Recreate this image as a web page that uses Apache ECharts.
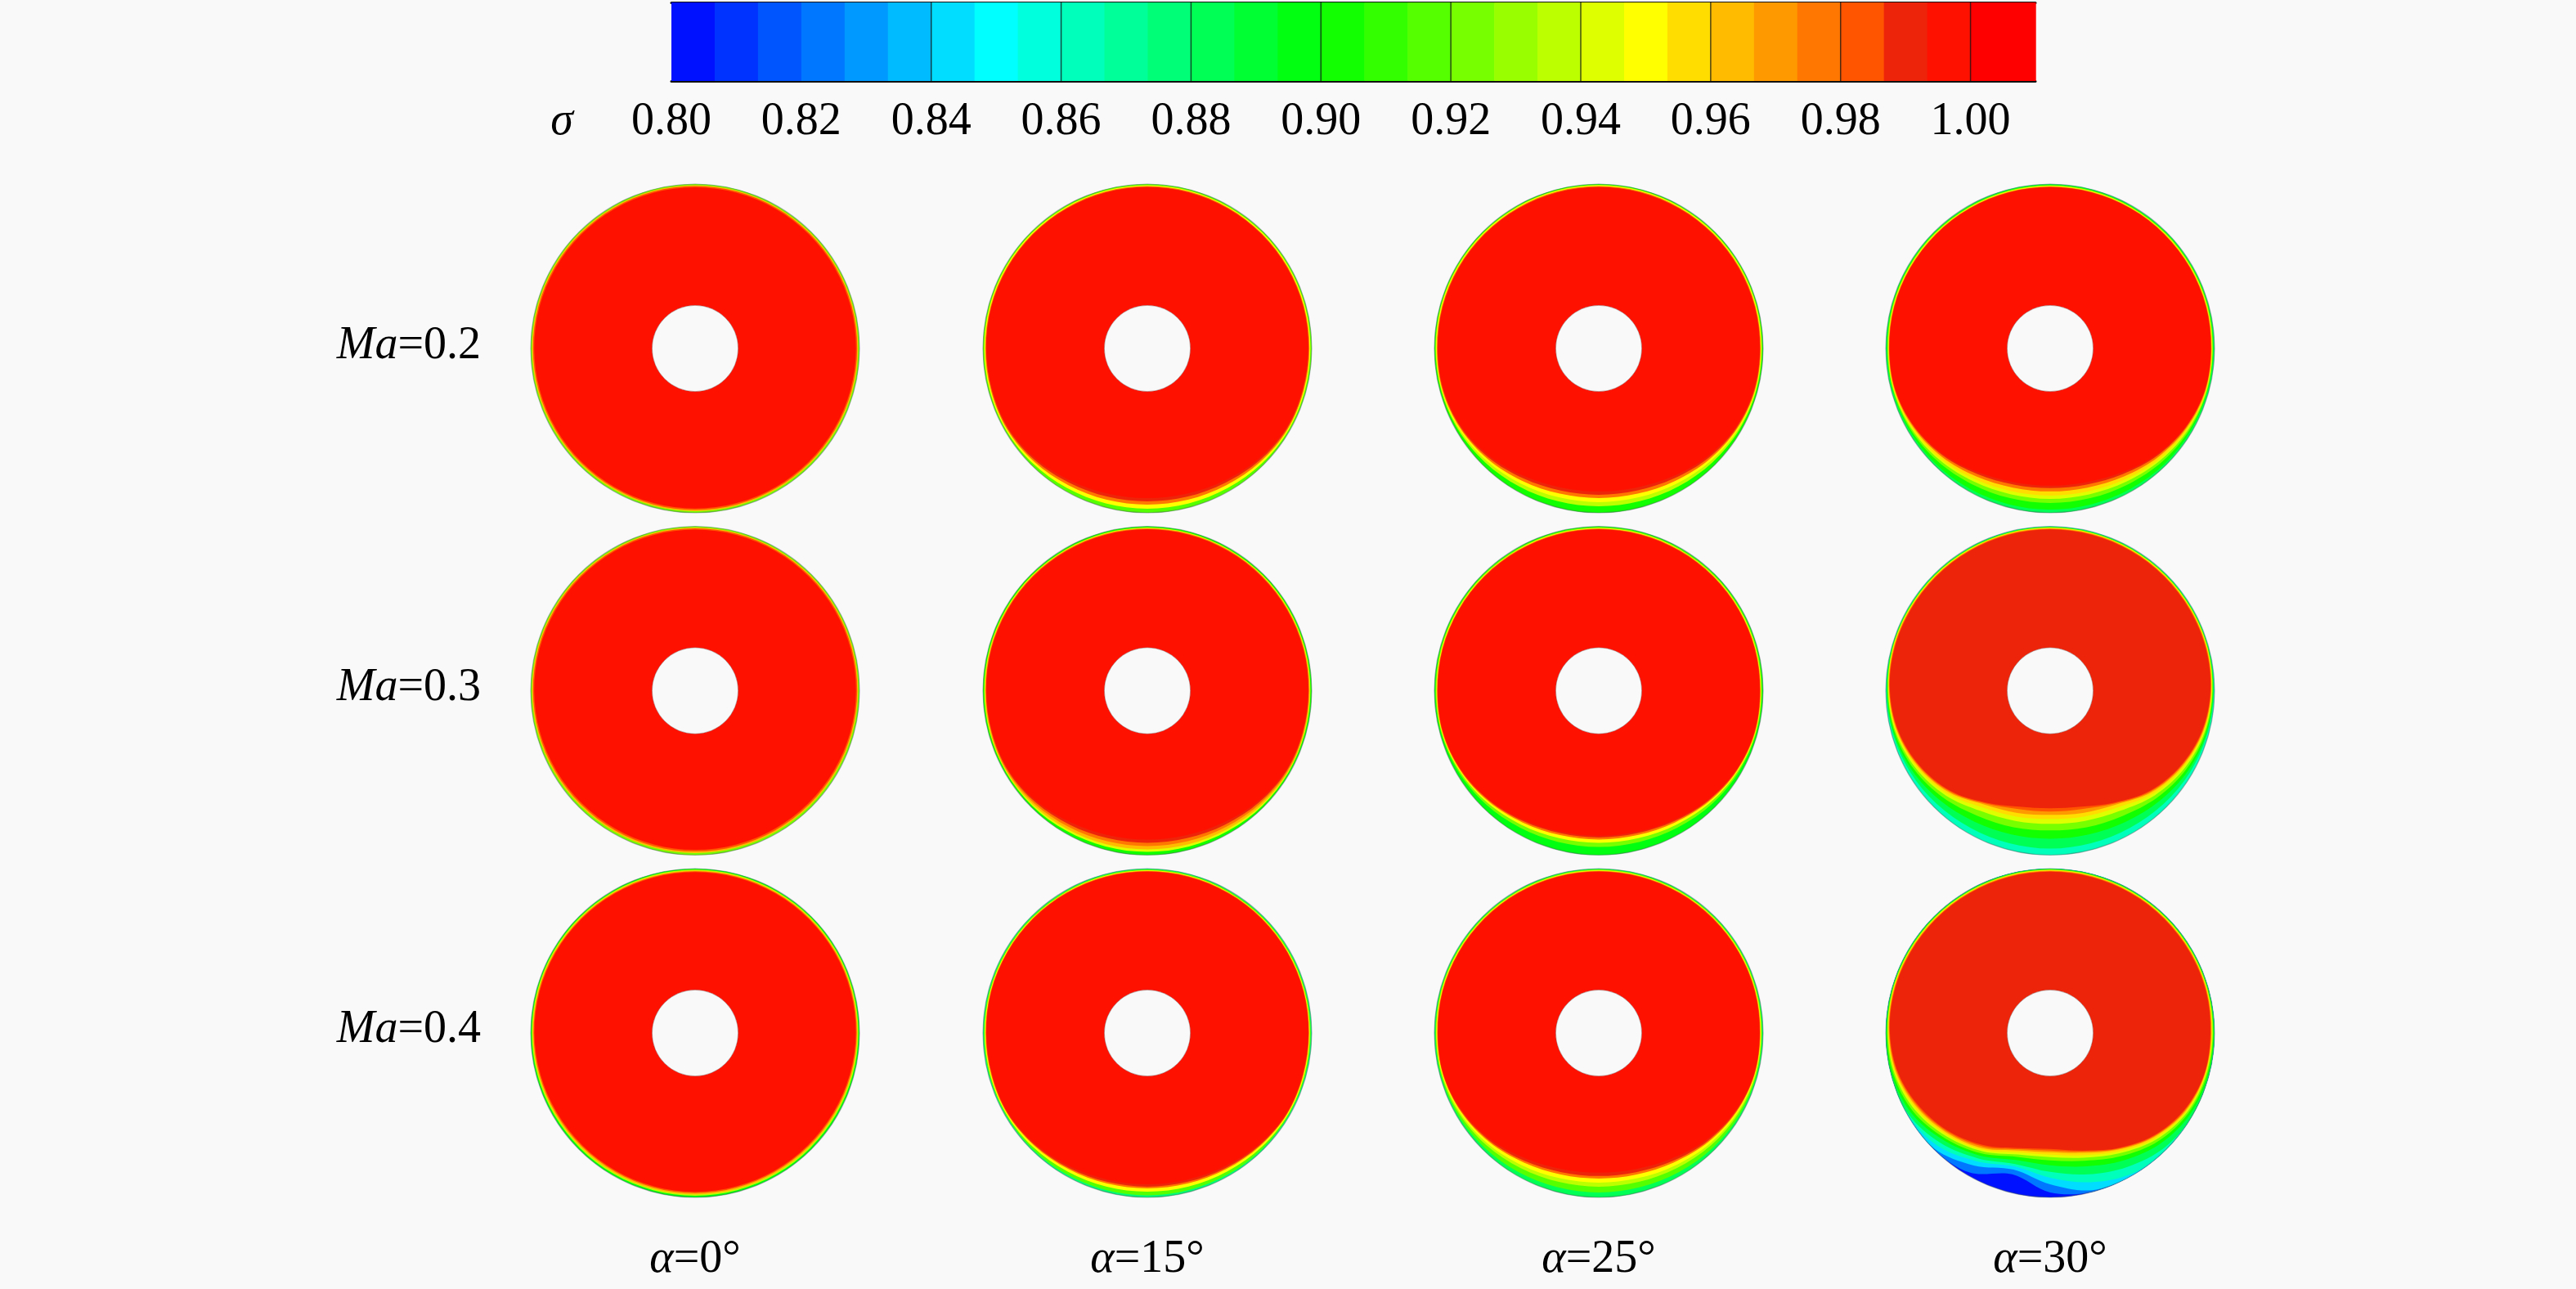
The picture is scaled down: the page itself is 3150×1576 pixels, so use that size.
<!DOCTYPE html>
<html><head><meta charset="utf-8">
<script src="https://cdn.jsdelivr.net/npm/echarts@6/dist/echarts.min.js"></script>
<style>html,body{margin:0;padding:0;background:#F9F9F9}#chart{width:3150px;height:1576px}</style>
</head><body><div id="chart"></div>
<script>
// ---------- labels ----------
const machLabels = ['0.2', '0.3', '0.4'];
const alphaLabels = ['0', '15', '25', '30'];
const colorbarTicks = [0.80, 0.82, 0.84, 0.86, 0.88, 0.90, 0.92, 0.94, 0.96, 0.98, 1.00];
const colorbarLines = [0.84, 0.86, 0.88, 0.90, 0.92, 0.94, 0.96, 0.98, 1.00];
const sigmaMin = 0.80, sigmaMax = 1.01, sigmaStep = 0.02 / 3;
const palette = ['#0011FF','#0033FF','#0055FF','#0077FF','#0099FF','#00BBFF','#00DDFF','#00FFFF',
  '#00FFDD','#00FFBB','#00FF99','#00FF77','#00FF55','#00FF33','#00FF11','#11FF00','#33FF00',
  '#55FF00','#77FF00','#99FF00','#BBFF00','#DDFF00','#FFFF00','#FFDD00','#FFBB00','#FF9900',
  '#FF7700','#FF5500','#EE240A','#FF1100','#FF0000'];
// sample angles (deg, 0 = right, 90 = top, 270 = bottom)
const angles = [0,15,30,45,60,75,90,105,120,135,150,165,180,195,210,225,240,255,270,285,300,315,330,345];

// ---------- sigma fields: each row = [sigma of region, outer boundary radius (% of disk) at each angle] ----------
const field_Ma02_a0 = [
 [0.925,100,100,100,100,100,100,100,100,100,100,100,100,100,100,100,100,100,100,100,100,100,100,100,100],
 [0.965,99.2,99.3,99.3,99.3,99.3,99.3,99.3,99.3,99.3,99.3,99.3,99.3,99.2,99.2,99.1,99.1,99.0,99.0,99.0,99.0,99.0,99.1,99.1,99.2],
 [0.985,98.6,98.7,98.7,98.7,98.7,98.7,98.7,98.7,98.7,98.7,98.7,98.7,98.6,98.5,98.4,98.3,98.2,98.2,98.2,98.2,98.2,98.3,98.4,98.5],
 [0.997,97.9,98,98,98,98,98,98,98,98,98,98,98,97.9,97.8,97.7,97.6,97.5,97.4,97.4,97.4,97.5,97.6,97.7,97.8]
];
const field_Ma03_a0 = [
 [0.925,100,100,100,100,100,100,100,100,100,100,100,100,100,100,100,100,100,100,100,100,100,100,100,100],
 [0.965,99.2,99.3,99.3,99.3,99.3,99.3,99.3,99.3,99.3,99.3,99.3,99.3,99.2,99.1,99.0,98.9,98.8,98.8,98.8,98.8,98.8,98.9,99.0,99.1],
 [0.985,98.6,98.7,98.7,98.7,98.7,98.7,98.7,98.7,98.7,98.7,98.7,98.7,98.6,98.4,98.2,98.0,97.9,97.8,97.8,97.8,97.9,98.0,98.2,98.4],
 [0.997,97.9,98,98,98,98,98,98,98,98,98,98,98,97.9,97.7,97.4,97.1,96.9,96.8,96.8,96.8,96.9,97.1,97.4,97.7]
];
const field_Ma04_a0 = [
 [0.895,100,100,100,100,100,100,100,100,100,100,100,100,100,100,100,100,100,100,100,100,100,100,100,100],
 [0.935,99.3,99.4,99.4,99.4,99.4,99.4,99.4,99.4,99.4,99.4,99.4,99.4,99.3,99.2,99.1,99.0,99.0,99.0,99.0,99.0,99.0,99.0,99.1,99.2],
 [0.965,98.8,98.9,98.9,98.9,98.9,98.9,98.9,98.9,98.9,98.9,98.9,98.9,98.8,98.6,98.4,98.3,98.2,98.2,98.2,98.2,98.2,98.3,98.4,98.6],
 [0.985,98.3,98.4,98.4,98.4,98.4,98.4,98.4,98.4,98.4,98.4,98.4,98.4,98.3,98.0,97.7,97.5,97.4,97.4,97.4,97.4,97.4,97.5,97.7,98.0],
 [0.997,97.8,97.9,97.9,97.9,97.9,97.9,97.9,97.9,97.9,97.9,97.9,97.9,97.8,97.4,97.0,96.8,96.7,96.6,96.6,96.6,96.7,96.8,97.0,97.4]
];
const field_Ma02_a15 = [
 [0.915,100,100,100,100,100,100,100,100,100,100,100,100,100,100,100,100,100,100,100,100,100,100,100,100],
 [0.95,99.2,99.3,99.3,99.3,99.3,99.3,99.3,99.3,99.3,99.3,99.3,99.3,99.2,99.2,99.2,98.7,98.0,97.6,97.5,97.6,98.0,98.7,99.2,99.2],
 [0.975,98.6,98.7,98.7,98.7,98.7,98.7,98.7,98.7,98.7,98.7,98.7,98.7,98.6,98.5,98.5,97.4,96.1,95.3,95.0,95.3,96.1,97.4,98.5,98.5],
 [0.99,98.1,98.3,98.3,98.3,98.3,98.3,98.3,98.3,98.3,98.3,98.3,98.3,98.1,98.0,97.9,96.4,94.5,93.4,93.0,93.4,94.5,96.4,97.9,98.0],
 [0.997,97.8,98,98,98,98,98,98,98,98,98,98,98,97.8,97.6,97.3,95.3,93.0,91.5,91.0,91.5,93.0,95.3,97.3,97.6]
];
const field_Ma03_a15 = [
 [0.905,100,100,100,100,100,100,100,100,100,100,100,100,100,100,100,100,100,100,100,100,100,100,100,100],
 [0.945,99.2,99.3,99.3,99.3,99.3,99.3,99.3,99.3,99.3,99.3,99.3,99.3,99.2,99.2,99.2,99.0,98.4,98.1,98.0,98.1,98.4,99.0,99.2,99.2],
 [0.965,98.8,98.9,98.9,98.9,98.9,98.9,98.9,98.9,98.9,98.9,98.9,98.9,98.8,98.8,98.8,98.2,97.3,96.7,96.5,96.7,97.3,98.2,98.8,98.8],
 [0.975,98.4,98.6,98.6,98.6,98.6,98.6,98.6,98.6,98.6,98.6,98.6,98.6,98.4,98.3,98.3,97.1,95.7,94.8,94.5,94.8,95.7,97.1,98.3,98.3],
 [0.99,98.1,98.3,98.3,98.3,98.3,98.3,98.3,98.3,98.3,98.3,98.3,98.3,98.1,98.0,97.75,96.1,94.2,92.9,92.5,92.9,94.2,96.1,97.75,98.0],
 [0.997,97.8,98,98,98,98,98,98,98,98,98,98,98,97.8,97.6,97.15,95.1,92.6,91.0,90.5,91.0,92.6,95.1,97.15,97.6]
];
const field_Ma04_a15 = [
 [0.875,100,100,100,100,100,100,100,100,100,100,100,100,100,100,100,100,100,100,100,100,100,100,100,100],
 [0.915,99.4,99.5,99.5,99.5,99.5,99.5,99.5,99.5,99.5,99.5,99.5,99.5,99.4,99.4,99.4,99.3,99.0,98.8,98.7,98.8,99.0,99.3,99.4,99.4],
 [0.95,98.9,99.0,99.0,99.0,99.0,99.0,99.0,99.0,99.0,99.0,99.0,99.0,98.9,98.9,98.9,98.2,97.3,96.7,96.5,96.7,97.3,98.2,98.9,98.9],
 [0.975,98.4,98.6,98.6,98.6,98.6,98.6,98.6,98.6,98.6,98.6,98.6,98.6,98.4,98.3,98.3,97.1,95.7,94.8,94.5,94.8,95.7,97.1,98.3,98.3],
 [0.99,98.1,98.3,98.3,98.3,98.3,98.3,98.3,98.3,98.3,98.3,98.3,98.3,98.1,98.0,98.0,96.6,94.9,93.8,93.5,93.8,94.9,96.6,98.0,98.0],
 [0.997,97.8,98,98,98,98,98,98,98,98,98,98,98,97.8,97.6,97.6,95.8,93.8,92.4,92.0,92.4,93.8,95.8,97.6,97.6]
];
const field_Ma02_a25 = [
 [0.905,100,100,100,100,100,100,100,100,100,100,100,100,100,100,100,100,100,100,100,100,100,100,100,100],
 [0.935,99.3,99.5,99.5,99.5,99.5,99.5,99.5,99.5,99.5,99.5,99.5,99.5,99.3,99.2,98.8,97.9,96.9,96.2,96.0,96.2,96.9,97.9,98.8,99.2],
 [0.95,98.9,99.1,99.1,99.1,99.1,99.1,99.1,99.1,99.1,99.1,99.1,99.1,98.9,98.8,98.05,96.6,94.9,93.8,93.5,93.8,94.9,96.6,98.05,98.8],
 [0.975,98.5,98.7,98.7,98.7,98.7,98.7,98.7,98.7,98.7,98.7,98.7,98.7,98.5,98.4,97.3,95.3,93.0,91.45,91.0,91.45,93.0,95.3,97.3,98.4],
 [0.99,98.1,98.3,98.3,98.3,98.3,98.3,98.3,98.3,98.3,98.3,98.3,98.3,98.1,98.0,96.7,94.3,91.4,89.55,89.0,89.55,91.4,94.3,96.7,98.0],
 [0.997,97.8,98,98,98,98,98,98,98,98,98,98,98,97.8,97.6,96.1,93.2,89.9,87.65,87.0,87.65,89.9,93.2,96.1,97.6]
];
const field_Ma03_a25 = [
 [0.895,100,100,100,100,100,100,100,100,100,100,100,100,100,100,100,100,100,100,100,100,100,100,100,100],
 [0.925,99.3,99.5,99.5,99.5,99.5,99.5,99.5,99.5,99.5,99.5,99.5,99.5,99.3,99.2,98.5,97.4,96.1,95.25,95.0,95.25,96.1,97.4,98.5,99.2],
 [0.95,98.8,99.0,99.0,99.0,99.0,99.0,99.0,99.0,99.0,99.0,99.0,99.0,98.8,98.8,97.75,96.1,94.15,92.9,92.5,92.9,94.15,96.1,97.75,98.8],
 [0.975,98.4,98.6,98.6,98.6,98.6,98.6,98.6,98.6,98.6,98.6,98.6,98.6,98.4,98.4,97.15,95.05,92.6,90.95,90.5,90.95,92.6,95.05,97.15,98.4],
 [0.99,98.1,98.3,98.3,98.3,98.3,98.3,98.3,98.3,98.3,98.3,98.3,98.3,98.1,98.1,96.8,94.4,91.7,89.8,89.3,89.8,91.7,94.4,96.8,98.1],
 [0.997,97.8,98,98,98,98,98,98,98,98,98,98,98,97.8,97.9,96.5,93.9,90.9,88.9,88.3,88.9,90.9,93.9,96.5,97.9]
];
const field_Ma04_a25 = [
 [0.885,100,100,100,100,100,100,100,100,100,100,100,100,100,100,100,100,100,100,100,100,100,100,100,100],
 [0.915,99.3,99.5,99.5,99.5,99.5,99.5,99.5,99.5,99.5,99.5,99.5,99.5,99.3,99.3,99.1,98.45,97.7,97.15,97.0,97.15,97.7,98.45,99.1,99.3],
 [0.935,99.0,99.2,99.2,99.2,99.2,99.2,99.2,99.2,99.2,99.2,99.2,99.2,99.0,98.9,98.05,96.6,94.9,93.8,93.5,93.8,94.9,96.6,98.05,98.9],
 [0.95,98.7,98.9,98.9,98.9,98.9,98.9,98.9,98.9,98.9,98.9,98.9,98.9,98.7,98.5,97.3,95.3,93.0,91.45,91.0,91.45,93.0,95.3,97.3,98.5],
 [0.975,98.3,98.6,98.6,98.6,98.6,98.6,98.6,98.6,98.6,98.6,98.6,98.6,98.3,98.1,96.55,94.0,91.0,89.1,88.5,89.1,91.0,94.0,96.55,98.1],
 [0.99,98.0,98.3,98.3,98.3,98.3,98.3,98.3,98.3,98.3,98.3,98.3,98.3,98.0,97.9,96.1,93.2,89.9,87.65,87.0,87.65,89.9,93.2,96.1,97.9],
 [0.997,97.7,98,98,98,98,98,98,98,98,98,98,98,97.7,97.6,95.5,92.2,88.3,85.75,85.0,85.75,88.3,92.2,95.5,97.6]
];
const field_Ma02_a30 = [
 [0.885,100,100,100,100,100,100,100,100,100,100,100,100,100,100,100,100,100,100,100,100,100,100,100,100],
 [0.905,99.3,99.6,99.6,99.6,99.6,99.6,99.6,99.6,99.6,99.6,99.6,99.6,99.3,99.2,99.1,98.9,98.4,98.1,98.0,98.1,98.4,98.9,99.1,99.2],
 [0.925,99.0,99.3,99.3,99.3,99.3,99.3,99.3,99.3,99.3,99.3,99.3,99.3,99.0,98.9,98.2,96.9,95.3,94.3,94.0,94.3,95.3,96.9,98.2,98.9],
 [0.945,98.7,99.0,99.0,99.0,99.0,99.0,99.0,99.0,99.0,99.0,99.0,99.0,98.7,98.6,97.45,95.6,93.4,91.9,91.5,91.9,93.4,95.6,97.45,98.6],
 [0.955,98.4,98.7,98.7,98.7,98.7,98.7,98.7,98.7,98.7,98.7,98.7,98.7,98.4,98.3,96.85,94.5,91.8,90.0,89.5,90.0,91.8,94.5,96.85,98.3],
 [0.975,98.1,98.4,98.4,98.4,98.4,98.4,98.4,98.4,98.4,98.4,98.4,98.4,98.1,97.9,96.1,93.2,89.9,87.65,87.0,87.65,89.9,93.2,96.1,97.9],
 [0.99,97.9,98.2,98.2,98.2,98.2,98.2,98.2,98.2,98.2,98.2,98.2,98.2,97.9,97.6,95.5,92.2,88.3,85.75,85.0,85.75,88.3,92.2,95.5,97.6],
 [0.997,97.6,97.9,97.9,97.9,97.9,97.9,97.9,97.9,97.9,97.9,97.9,97.9,97.6,97.35,95.05,91.4,87.1,84.3,83.5,84.3,87.1,91.4,95.05,97.35]
];
const field_Ma03_a30 = [
 [0.865,100,100,100,100,100,100,100,100,100,100,100,100,100,100,100,100,100,100,100,100,100,100,100,100],
 [0.885,99.6,99.8,99.8,99.8,99.8,99.8,99.8,99.8,99.8,99.8,99.8,99.8,99.6,99.2,98.5,97.5,96.5,96,96,96,96.5,97.5,98.5,99.2],
 [0.905,99.2,99.6,99.6,99.6,99.6,99.6,99.6,99.6,99.6,99.6,99.6,99.6,99.2,98.6,97,94.5,92,90.5,90,90.5,92,94.5,97,98.6],
 [0.925,98.9,99.4,99.4,99.4,99.4,99.4,99.4,99.4,99.4,99.4,99.4,99.4,98.9,97.9,95.6,92,88,86,85,86,88,92,95.6,97.9],
 [0.945,98.6,99.2,99.2,99.2,99.2,99.2,99.2,99.2,99.2,99.2,99.2,99.2,98.6,97.3,94.4,90,84.5,82,81,82,84.5,90,94.4,97.3],
 [0.955,98.3,99.0,99.0,99.0,99.0,99.0,99.0,99.0,99.0,99.0,99.0,99.0,98.3,96.8,93.4,88.5,82,79.3,78,79.3,82,88.5,93.4,96.8],
 [0.97,98.0,98.7,98.7,98.7,98.7,98.7,98.7,98.7,98.7,98.7,98.7,98.7,98.0,96.3,92.6,87.3,80,77,75.5,77,80,87.3,92.6,96.3],
 [0.982,97.8,98.4,98.4,98.4,98.4,98.4,98.4,98.4,98.4,98.4,98.4,98.4,97.8,95.9,92,86.6,79.2,74.5,73.5,74.5,79.2,86.6,92,95.9],
 [0.99,97.5,98.1,98.1,98.1,98.1,98.1,98.1,98.1,98.1,98.1,98.1,98.1,97.5,95.5,91.5,86,78.5,73,71.5,73,78.5,86,91.5,95.5]
];
const field_Ma04_a30 = [
 [0.805,100,100,100,100,100,100,100,100,100,100,100,100,100,100,100,100,100,100,100,100,100,100,100,100],
 [0.825,100,100,100,100,100,100,100,100,100,100,100,100,100,100,100,100,98,89,97,100,100,100,100,100],
 [0.845,100,100,100,100,100,100,100,100,100,100,100,100,100,100,100,99.5,93,86,92,99,100,100,100,100],
 [0.865,100,100,100,100,100,100,100,100,100,100,100,100,100,100,100,97,90,84,88,94,99,100,100,100],
 [0.885,100,100,100,100,100,100,100,100,100,100,100,100,100,100,99.3,94.5,88,82.5,84.5,89,94,98.5,100,100],
 [0.905,99.5,99.7,99.7,99.7,99.7,99.7,99.7,99.7,99.7,99.7,99.7,99.7,99.6,99.5,97.5,92,86,80,80.5,84,89.5,95,98.5,99.5],
 [0.925,99.2,99.5,99.5,99.5,99.5,99.5,99.5,99.5,99.5,99.5,99.5,99.5,99.2,98.6,96,90.5,84.5,78,77.5,80.5,86.5,93,97.2,98.8],
 [0.945,98.8,99.2,99.2,99.2,99.2,99.2,99.2,99.2,99.2,99.2,99.2,99.2,98.8,97.8,94.5,89,83,76.5,75.5,78.5,84.5,91.5,96.3,98.2],
 [0.955,98.5,99.0,99.0,99.0,99.0,99.0,99.0,99.0,99.0,99.0,99.0,99.0,98.5,97.2,93.5,88,82,75.2,74,77,83.2,90.5,95.6,97.8],
 [0.97,98.1,98.7,98.7,98.7,98.7,98.7,98.7,98.7,98.7,98.7,98.7,98.7,98.1,96.6,92.5,87,81,74,72.5,75.5,82,89.5,95,97.4],
 [0.982,97.8,98.4,98.4,98.4,98.4,98.4,98.4,98.4,98.4,98.4,98.4,98.4,97.8,96,91.7,86.2,80,73.2,71.5,74.7,81.5,89,94.5,97.2],
 [0.99,97.5,98.1,98.1,98.1,98.1,98.1,98.1,98.1,98.1,98.1,98.1,98.1,97.5,95.5,91,85.5,79,72.5,70.5,74,81,88.5,94,97]
];
const fields = [
  [field_Ma02_a0, field_Ma02_a15, field_Ma02_a25, field_Ma02_a30],
  [field_Ma03_a0, field_Ma03_a15, field_Ma03_a25, field_Ma03_a30],
  [field_Ma04_a0, field_Ma04_a15, field_Ma04_a25, field_Ma04_a30]
];

// ---------- layout / style ----------
const BG = '#F9F9F9';
const FONT = 'Liberation Serif';
const colX = [850, 1403, 1955, 2507];
const rowY = [426, 844.5, 1263];
const rowLabelY = [423, 841, 1259];
const colLabelY = 1540;
const diskR = 201;
const holeRatio = 0.262;

const chart = echarts.init(document.getElementById('chart'), null, {renderer: 'canvas'});

const pieces = palette.map((c, i) => ({
  gte: sigmaMin + i * sigmaStep - 1e-9,
  lt: i === palette.length - 1 ? sigmaMax + 0.01 : sigmaMin + (i + 1) * sigmaStep - 1e-9,
  color: c
}));
const bandData = palette.map((c, i) => {
  const lo = sigmaMin + i * sigmaStep;
  const hi = i === palette.length - 1 ? sigmaMax : sigmaMin + (i + 1) * sigmaStep;
  return [lo + (hi - lo) / 2, lo, hi];
});

const polar = [], radiusAxis = [], angleAxis = [], diskSeries = [];
fields.forEach((row, r) => row.forEach((field, c) => {
  const k = polar.length;
  polar.push({center: [colX[c], rowY[r]], radius: diskR});
  radiusAxis.push({polarIndex: k, type: 'value', min: 0, max: 100, show: false,
    axisLine: {show: false}, axisLabel: {show: false}, axisTick: {show: false}, splitLine: {show: false}});
  angleAxis.push({polarIndex: k, type: 'value', min: 0, max: 360, startAngle: 0, clockwise: false, show: false,
    axisLine: {show: false}, axisLabel: {show: false}, axisTick: {show: false}, splitLine: {show: false}});
  diskSeries.push({
    type: 'custom', coordinateSystem: 'polar', polarIndex: k, silent: true,
    data: field,
    renderItem: function (params, api) {
      const rowData = field[params.dataIndex];
      const pts = angles.map((a, i) => api.coord([rowData[i + 1], a]));
      const poly = {type: 'polygon', shape: {points: pts, smooth: 0.338}, style: {fill: api.visual('color')}};
      if (params.dataIndex !== field.length - 1) return poly;
      const cen = api.coord([0, 0]);
      const edge = api.coord([100, 0]);
      const R = Math.hypot(edge[0] - cen[0], edge[1] - cen[1]);
      return {type: 'group', children: [
        poly,
        {type: 'circle', shape: {cx: cen[0], cy: cen[1], r: R * holeRatio}, style: {fill: BG}},
        {type: 'ring', shape: {cx: cen[0], cy: cen[1], r0: R + 0.6, r: R + 14}, style: {fill: BG}},
        {type: 'circle', shape: {cx: cen[0], cy: cen[1], r: R}, style: {fill: 'none', stroke: 'rgba(70,90,90,0.45)', lineWidth: 1.2}},
        {type: 'circle', shape: {cx: cen[0], cy: cen[1], r: R * holeRatio}, style: {fill: 'none', stroke: 'rgba(90,60,60,0.35)', lineWidth: 1}}
      ]};
    }
  });
}));

const titles = [];
titles.push({text: '{i|σ}', left: 687, top: 149, textAlign: 'center', textVerticalAlign: 'middle', padding: 0,
  textStyle: {fontFamily: FONT, fontSize: 56, lineHeight: 56, color: '#000', fontWeight: 'normal',
    rich: {i: {fontFamily: FONT, fontSize: 56, lineHeight: 56, fontStyle: 'italic', color: '#000'}}}});
machLabels.forEach((m, r) => titles.push({text: '{i|Ma}=' + m, left: 588, top: rowLabelY[r],
  textAlign: 'right', textVerticalAlign: 'middle', padding: 0,
  textStyle: {fontFamily: FONT, fontSize: 56, lineHeight: 56, color: '#000', fontWeight: 'normal',
    rich: {i: {fontFamily: FONT, fontSize: 56, lineHeight: 56, fontStyle: 'italic', color: '#000'}}}}));
alphaLabels.forEach((a, c) => titles.push({text: '{i|α}=' + a + '°', left: colX[c], top: colLabelY,
  textAlign: 'center', textVerticalAlign: 'middle', padding: 0,
  textStyle: {fontFamily: FONT, fontSize: 56, lineHeight: 56, color: '#000', fontWeight: 'normal',
    rich: {i: {fontFamily: FONT, fontSize: 56, lineHeight: 56, fontStyle: 'italic', color: '#000'}}}}));

const option = {
  backgroundColor: BG,
  animation: false,
  title: titles,
  grid: [{left: 821, top: 3, width: 1668, height: 96, containLabel: false}],
  xAxis: [
    {gridIndex: 0, type: 'value', min: sigmaMin, max: sigmaMax, interval: 0.02, position: 'bottom',
      axisLine: {show: true, onZero: false, lineStyle: {color: '#111', width: 3}},
      axisTick: {show: false}, splitLine: {show: false},
      axisLabel: {show: true, margin: 22, fontFamily: FONT, fontSize: 56, lineHeight: 56, color: '#000',
        showMaxLabel: false, hideOverlap: false,
        formatter: v => (v > 1.0005 ? '' : colorbarTicks.reduce((b, t) => Math.abs(t - v) < Math.abs(b - v) ? t : b).toFixed(2))}},
    {gridIndex: 0, type: 'value', min: sigmaMin, max: sigmaMax, position: 'top',
      axisLine: {show: true, onZero: false, lineStyle: {color: '#111', width: 3}},
      axisTick: {show: false}, splitLine: {show: false}, axisLabel: {show: false}}
  ],
  yAxis: [{gridIndex: 0, type: 'value', min: 0, max: 1, show: false}],
  polar: polar,
  radiusAxis: radiusAxis,
  angleAxis: angleAxis,
  visualMap: {type: 'piecewise', show: false, dimension: 0,
    seriesIndex: [0].concat(diskSeries.map((s, i) => i + 2)), pieces: pieces},
  series: [
    {type: 'custom', coordinateSystem: 'cartesian2d', xAxisIndex: 0, yAxisIndex: 0, silent: true,
      data: bandData, z: 1,
      renderItem: function (params, api) {
        const p0 = api.coord([api.value(1), 1]);
        const p1 = api.coord([api.value(2), 0]);
        return {type: 'rect', shape: {x: p0[0], y: p0[1], width: p1[0] - p0[0] + 0.7, height: p1[1] - p0[1]},
          style: {fill: api.visual('color')}};
      }},
    {type: 'custom', coordinateSystem: 'cartesian2d', xAxisIndex: 0, yAxisIndex: 0, silent: true,
      data: colorbarLines.map(v => [v, 0]), z: 2,
      renderItem: function (params, api) {
        const p0 = api.coord([api.value(0), 1]);
        const p1 = api.coord([api.value(0), 0]);
        return {type: 'line', shape: {x1: p0[0], y1: p0[1], x2: p1[0], y2: p1[1]},
          style: {stroke: 'rgba(20,20,20,0.75)', lineWidth: 1.5}};
      }}
  ].concat(diskSeries)
};
chart.setOption(option);
</script>
</body></html>
